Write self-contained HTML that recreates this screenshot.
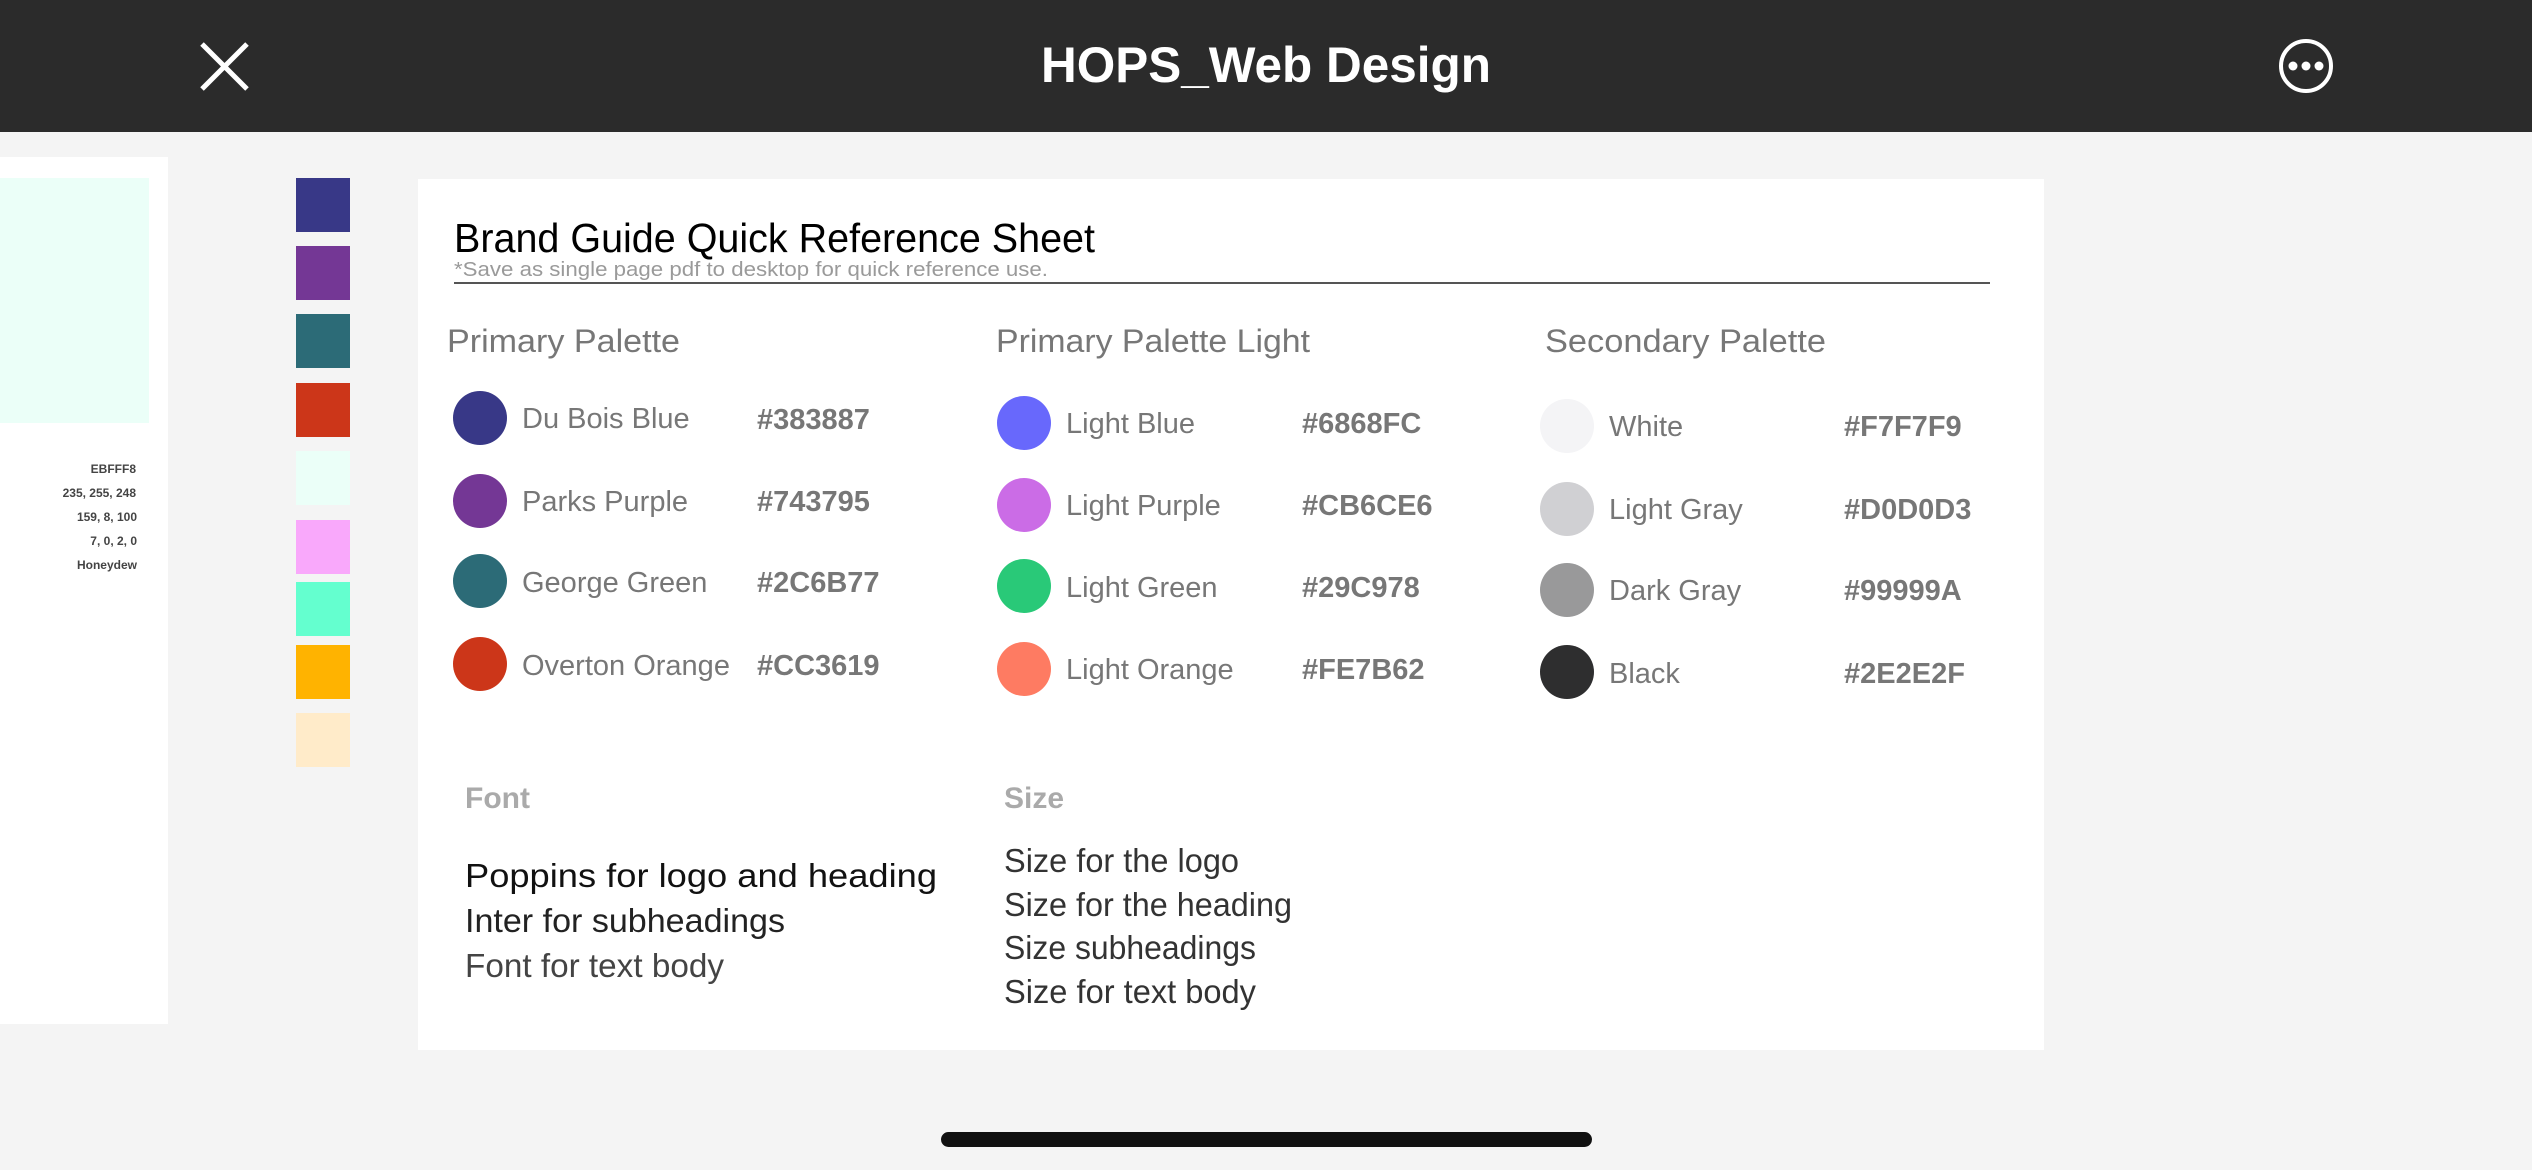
<!DOCTYPE html>
<html><head><meta charset="utf-8"><style>
html,body{margin:0;padding:0;width:2532px;height:1170px;overflow:hidden;background:#f4f4f4}
svg{display:block}
text{font-family:"Liberation Sans",sans-serif}
</style></head><body>
<svg width="2532" height="1170" viewBox="0 0 2532 1170" xmlns="http://www.w3.org/2000/svg">
<rect x="0" y="0" width="2532" height="1170" fill="#f4f4f4"/>
<!-- top bar -->
<rect x="0" y="0" width="2532" height="132" fill="#2b2b2b"/>
<line x1="202" y1="44" x2="247" y2="89" stroke="#fff" stroke-width="5"/>
<line x1="247" y1="44" x2="202" y2="89" stroke="#fff" stroke-width="5"/>
<text x="1266" y="82" text-anchor="middle" font-size="50" font-weight="bold" fill="#fff" textLength="450" lengthAdjust="spacingAndGlyphs">HOPS_Web Design</text>
<circle cx="2306" cy="66" r="25" fill="none" stroke="#fff" stroke-width="4"/>
<circle cx="2293" cy="66" r="4.5" fill="#fff"/><circle cx="2306" cy="66" r="4.5" fill="#fff"/><circle cx="2319" cy="66" r="4.5" fill="#fff"/>
<!-- left panel -->
<rect x="0" y="157" width="168" height="867" fill="#fff"/>
<rect x="0" y="178" width="149" height="245" fill="#ebfff8"/>
<g font-size="12" font-weight="bold" fill="#444" text-anchor="end">
<text x="136" y="473">EBFFF8</text>
<text x="136" y="497">235, 255, 248</text>
<text x="137" y="521">159, 8, 100</text>
<text x="137" y="545">7, 0, 2, 0</text>
<text x="137" y="569">Honeydew</text>
</g>
<!-- swatches -->
<rect x="296" y="178" width="54" height="54" fill="#383887"/>
<rect x="296" y="246" width="54" height="54" fill="#743795"/>
<rect x="296" y="314" width="54" height="54" fill="#2c6b77"/>
<rect x="296" y="383" width="54" height="54" fill="#cc3619"/>
<rect x="296" y="451" width="54" height="54" fill="#ebfff8"/>
<rect x="296" y="520" width="54" height="54" fill="#f9a8fb"/>
<rect x="296" y="582" width="54" height="54" fill="#64ffcf"/>
<rect x="296" y="645" width="54" height="54" fill="#ffb300"/>
<rect x="296" y="713" width="54" height="54" fill="#ffebc9"/>
<!-- main card -->
<rect x="418" y="179" width="1626" height="871" fill="#fff"/>
<text x="454" y="252" font-size="41" fill="#000" textLength="641" lengthAdjust="spacingAndGlyphs">Brand Guide Quick Reference Sheet</text>
<text x="454" y="276" font-size="20" fill="#9a9a9a" textLength="594" lengthAdjust="spacingAndGlyphs">*Save as single page pdf to desktop for quick reference use.</text>
<line x1="454" y1="283" x2="1990" y2="283" stroke="#555" stroke-width="2"/>
<g font-size="32" fill="#777">
<text x="447" y="352" textLength="233" lengthAdjust="spacingAndGlyphs">Primary Palette</text>
<text x="996" y="352" textLength="314" lengthAdjust="spacingAndGlyphs">Primary Palette Light</text>
<text x="1545" y="352" textLength="281" lengthAdjust="spacingAndGlyphs">Secondary Palette</text>
</g>
<!-- col1 -->
<g font-size="29" fill="#777">
<circle cx="480" cy="418" r="27" fill="#383887"/><text x="522" y="428">Du Bois Blue</text><text x="757" y="429" font-weight="bold">#383887</text>
<circle cx="480" cy="501" r="27" fill="#743795"/><text x="522" y="511">Parks Purple</text><text x="757" y="511" font-weight="bold">#743795</text>
<circle cx="480" cy="581" r="27" fill="#2c6b77"/><text x="522" y="592">George Green</text><text x="757" y="592" font-weight="bold">#2C6B77</text>
<circle cx="480" cy="664" r="27" fill="#cc3619"/><text x="522" y="675">Overton Orange</text><text x="757" y="675" font-weight="bold">#CC3619</text>
<!-- col2 -->
<circle cx="1024" cy="423" r="27" fill="#6868fc"/><text x="1066" y="433">Light Blue</text><text x="1302" y="433" font-weight="bold">#6868FC</text>
<circle cx="1024" cy="505" r="27" fill="#cb6ce6"/><text x="1066" y="515">Light Purple</text><text x="1302" y="515" font-weight="bold">#CB6CE6</text>
<circle cx="1024" cy="586" r="27" fill="#29c978"/><text x="1066" y="597">Light Green</text><text x="1302" y="597" font-weight="bold">#29C978</text>
<circle cx="1024" cy="669" r="27" fill="#fe7b62"/><text x="1066" y="679">Light Orange</text><text x="1302" y="679" font-weight="bold">#FE7B62</text>
<!-- col3 -->
<circle cx="1567" cy="426" r="27" fill="#f4f4f6"/><text x="1609" y="436">White</text><text x="1844" y="436" font-weight="bold">#F7F7F9</text>
<circle cx="1567" cy="509" r="27" fill="#d0d0d3"/><text x="1609" y="519">Light Gray</text><text x="1844" y="519" font-weight="bold">#D0D0D3</text>
<circle cx="1567" cy="590" r="27" fill="#99999a"/><text x="1609" y="600">Dark Gray</text><text x="1844" y="600" font-weight="bold">#99999A</text>
<circle cx="1567" cy="672" r="27" fill="#2e2e2f"/><text x="1609" y="683">Black</text><text x="1844" y="683" font-weight="bold">#2E2E2F</text>
</g>
<!-- fonts -->
<text x="465" y="808" font-size="30" font-weight="bold" fill="#aaa">Font</text>
<text x="1004" y="808" font-size="30" font-weight="bold" fill="#aaa">Size</text>
<text x="465" y="887" font-size="33" fill="#111" textLength="472" lengthAdjust="spacingAndGlyphs">Poppins for logo and heading</text>
<text x="465" y="932" font-size="33" fill="#222" textLength="320" lengthAdjust="spacingAndGlyphs">Inter for subheadings</text>
<text x="465" y="977" font-size="33" fill="#444" textLength="259" lengthAdjust="spacingAndGlyphs">Font for text body</text>
<g font-size="33" fill="#333">
<text x="1004" y="872" textLength="235" lengthAdjust="spacingAndGlyphs">Size for the logo</text>
<text x="1004" y="916" textLength="288" lengthAdjust="spacingAndGlyphs">Size for the heading</text>
<text x="1004" y="959" textLength="252" lengthAdjust="spacingAndGlyphs">Size subheadings</text>
<text x="1004" y="1003" textLength="252" lengthAdjust="spacingAndGlyphs">Size for text body</text>
</g>
<!-- home bar -->
<rect x="941" y="1132" width="651" height="15" rx="7.5" fill="#111"/>
</svg>
</body></html>
